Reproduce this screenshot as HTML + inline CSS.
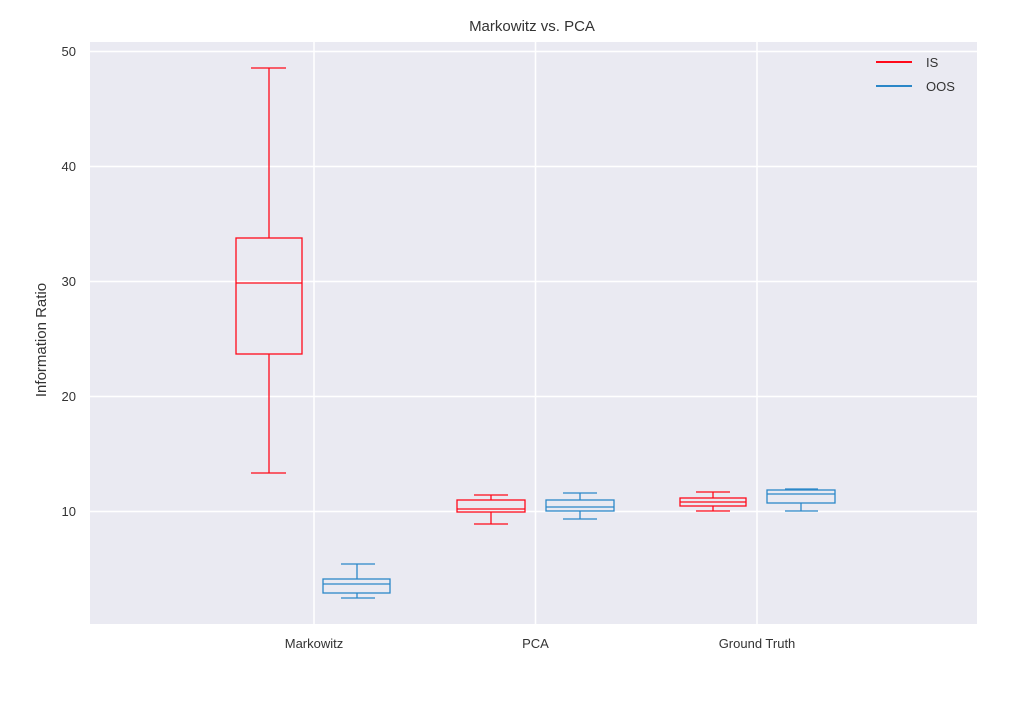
<!DOCTYPE html>
<html><head><meta charset="utf-8"><style>
html,body{margin:0;padding:0;background:#fff;}
svg{display:block;font-family:"Liberation Sans","DejaVu Sans",sans-serif;}
</style></head><body>
<svg width="1023" height="719" viewBox="0 0 1023 719" xmlns="http://www.w3.org/2000/svg">
<rect x="90" y="42" width="887" height="582" fill="#eaeaf2"/>
<g stroke="#fff" stroke-width="1.5">
<line x1="90" x2="977" y1="51.5" y2="51.5"/>
<line x1="90" x2="977" y1="166.5" y2="166.5"/>
<line x1="90" x2="977" y1="281.5" y2="281.5"/>
<line x1="90" x2="977" y1="396.5" y2="396.5"/>
<line x1="90" x2="977" y1="511.5" y2="511.5"/>
<line x1="314" x2="314" y1="42" y2="624"/>
<line x1="535.5" x2="535.5" y1="42" y2="624"/>
<line x1="757" x2="757" y1="42" y2="624"/>
</g>
<g fill="#333" font-size="13" text-anchor="end">
<text x="76" y="56">50</text>
<text x="76" y="171">40</text>
<text x="76" y="286">30</text>
<text x="76" y="401">20</text>
<text x="76" y="516">10</text>
</g>
<g fill="#333" font-size="13" text-anchor="middle">
<text x="314" y="648">Markowitz</text>
<text x="535.5" y="648">PCA</text>
<text x="757" y="648">Ground Truth</text>
<text x="532" y="31" font-size="15">Markowitz vs. PCA</text>
<text transform="translate(46,340) rotate(-90)" font-size="15">Information Ratio</text>
</g>
<g fill="none" stroke="#ff0a1a" stroke-width="1.3">
<line x1="251" x2="286" y1="68" y2="68"/><line x1="269" x2="269" y1="68" y2="238"/>
<rect x="236" y="238" width="66" height="116"/><line x1="236" x2="302" y1="283" y2="283"/>
<line x1="269" x2="269" y1="354" y2="473"/><line x1="251" x2="286" y1="473" y2="473"/>
<line x1="474" x2="508" y1="495" y2="495"/><line x1="491" x2="491" y1="495" y2="500"/>
<rect x="457" y="500" width="68" height="12"/><line x1="457" x2="525" y1="509" y2="509"/>
<line x1="491" x2="491" y1="512" y2="524"/><line x1="474" x2="508" y1="524" y2="524"/>
<line x1="696" x2="730" y1="492" y2="492"/><line x1="713" x2="713" y1="492" y2="498"/>
<rect x="680" y="498" width="66" height="8"/><line x1="680" x2="746" y1="502" y2="502"/>
<line x1="713" x2="713" y1="506" y2="511"/><line x1="696" x2="730" y1="511" y2="511"/>
</g>
<g fill="none" stroke="#2b87c8" stroke-width="1.3">
<line x1="341" x2="375" y1="564" y2="564"/><line x1="357" x2="357" y1="564" y2="579"/>
<rect x="323" y="579" width="67" height="14"/><line x1="323" x2="390" y1="584" y2="584"/>
<line x1="357" x2="357" y1="593" y2="598"/><line x1="341" x2="375" y1="598" y2="598"/>
<line x1="563" x2="597" y1="493" y2="493"/><line x1="580" x2="580" y1="493" y2="500"/>
<rect x="546" y="500" width="68" height="11"/><line x1="546" x2="614" y1="507" y2="507"/>
<line x1="580" x2="580" y1="511" y2="519"/><line x1="563" x2="597" y1="519" y2="519"/>
<line x1="785" x2="818" y1="489" y2="489"/>
<rect x="767" y="490" width="68" height="13"/><line x1="767" x2="835" y1="494" y2="494"/>
<line x1="801" x2="801" y1="503" y2="511"/><line x1="785" x2="818" y1="511" y2="511"/>
</g>
<line x1="876" x2="912" y1="62" y2="62" stroke="#ff0a1a" stroke-width="2"/>
<line x1="876" x2="912" y1="86" y2="86" stroke="#2b87c8" stroke-width="2"/>
<text x="926" y="67" font-size="13" fill="#333">IS</text>
<text x="926" y="91" font-size="13" fill="#333">OOS</text>
</svg>
</body></html>
